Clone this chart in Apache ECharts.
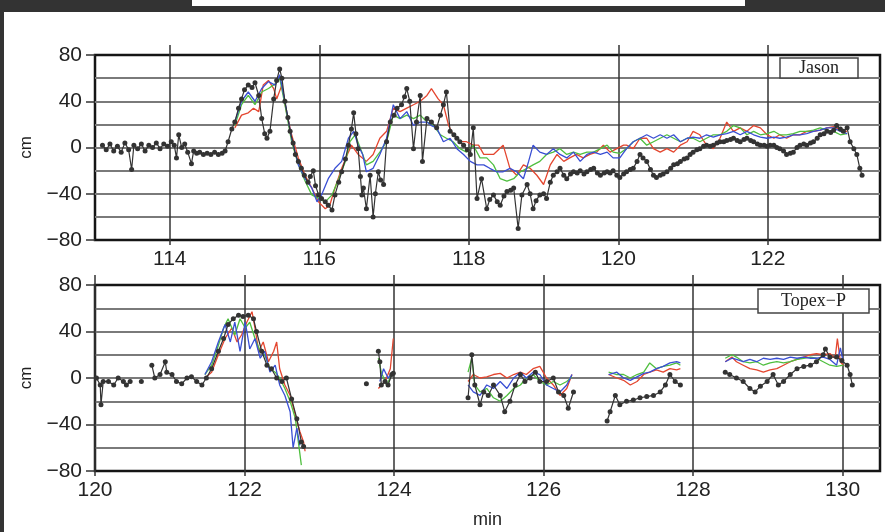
<!DOCTYPE html>
<html>
<head>
<meta charset="utf-8">
<script src="https://cdn.jsdelivr.net/npm/echarts@6/dist/echarts.min.js"></script>
<style>
  html, body { margin: 0; padding: 0; background: #fff; }
  #wrap { position: relative; width: 885px; height: 532px; overflow: hidden; }
  #chart { width: 885px; height: 532px; }
  .band { position: absolute; background: #333; }
</style>
</head>
<body>
<div id="wrap">
  <div id="chart"></div>
  <div class="band" style="left:0;top:0;width:885px;height:12px"></div>
  <div style="position:absolute;left:192px;top:0;width:553px;height:6px;background:#fff"></div>
  <div class="band" style="left:0;top:0;width:4px;height:532px"></div>
</div>
<script>
// tick labels (half-minute steps so the category axes line up with the value axes)
const jasonTicks = ['113','113.5','114','114.5','115','115.5','116','116.5','117','117.5','118','118.5',
  '119','119.5','120','120.5','121','121.5','122','122.5','123','123.5']
const topexTicks = ['120','120.5','121','121.5','122','122.5','123','123.5','124','124.5','125','125.5',
  '126','126.5','127','127.5','128','128.5','129','129.5','130','130.5']

// Jason: observed (black, dots) and three model runs
const jasonObs = [[113.10,2],[113.15,-2],[113.20,3],[113.25,-3],[113.30,1],[113.35,-4],[113.40,4],[113.45,-2],[113.49,-19],[113.52,2],[113.57,-1],[113.62,3],[113.67,-3],[113.72,2],[113.77,0],[113.82,4],[113.87,-1],[113.92,3],[113.97,1],[114.02,5],[114.06,2],[114.09,-9],[114.12,11],[114.16,0],[114.20,3],[114.24,-4],[114.29,-14],[114.32,-3],[114.36,-5],[114.40,-4],[114.45,-6],[114.50,-5],[114.55,-6],[114.60,-4],[114.65,-6],[114.70,-5],[114.74,-3],[114.78,5],[114.83,16],[114.87,22],[114.92,34],[114.96,42],[115.00,50],[115.05,54],[115.10,52],[115.14,56],[115.19,45],[115.23,25],[115.27,12],[115.30,8],[115.34,14],[115.39,42],[115.43,58],[115.47,68],[115.50,60],[115.54,40],[115.58,26],[115.61,14],[115.65,4],[115.68,-6],[115.72,-12],[115.76,-18],[115.80,-24],[115.85,-30],[115.88,-25],[115.92,-20],[115.95,-33],[115.99,-41],[116.03,-44],[116.08,-47],[116.12,-50],[116.17,-54],[116.21,-41],[116.26,-30],[116.30,-21],[116.35,-10],[116.39,2],[116.43,16],[116.46,30],[116.49,12],[116.52,-1],[116.55,-25],[116.57,-41],[116.59,-35],[116.63,-53],[116.68,-24],[116.72,-60],[116.75,-40],[116.79,-21],[116.82,-28],[116.86,-32],[116.90,5],[116.95,22],[117.00,28],[117.04,34],[117.10,37],[117.14,44],[117.17,51],[117.21,40],[117.26,-1],[117.30,22],[117.35,45],[117.38,-12],[117.44,25],[117.50,22],[117.57,17],[117.62,28],[117.66,37],[117.70,48],[117.75,14],[117.80,11],[117.84,8],[117.88,5],[117.93,2],[117.98,-2],[118.02,-6],[118.06,17],[118.11,-44],[118.17,-27],[118.24,-53],[118.28,-45],[118.33,-41],[118.38,-47],[118.42,-50],[118.47,-42],[118.51,-38],[118.56,-37],[118.60,-35],[118.66,-70],[118.71,-41],[118.78,-32],[118.82,-40],[118.86,-53],[118.90,-46],[118.95,-41],[119.00,-40],[119.04,-44],[119.09,-30],[119.13,-24],[119.18,-21],[119.22,-18],[119.27,-24],[119.31,-27],[119.36,-23],[119.40,-21],[119.45,-22],[119.49,-20],[119.54,-23],[119.58,-21],[119.63,-19],[119.67,-18],[119.72,-22],[119.76,-24],[119.81,-22],[119.85,-21],[119.89,-22],[119.93,-20],[119.98,-24],[120.02,-26],[120.07,-23],[120.11,-21],[120.16,-19],[120.20,-18],[120.25,-12],[120.29,-6],[120.33,-9],[120.38,-12],[120.43,-19],[120.47,-24],[120.51,-26],[120.56,-24],[120.60,-23],[120.65,-21],[120.70,-18],[120.74,-15],[120.79,-14],[120.83,-12],[120.88,-10],[120.92,-9],[120.96,-6],[121.00,-4],[121.05,-2],[121.09,-1],[121.14,1],[121.18,2],[121.23,1],[121.27,2],[121.32,4],[121.36,5],[121.41,5],[121.45,6],[121.50,7],[121.54,8],[121.59,6],[121.63,5],[121.68,7],[121.72,8],[121.77,6],[121.81,5],[121.86,3],[121.90,2],[121.95,2],[121.99,1],[122.03,2],[122.08,2],[122.12,0],[122.16,-1],[122.21,-3],[122.25,-6],[122.30,-5],[122.34,-4],[122.39,0],[122.43,2],[122.48,3],[122.52,2],[122.57,4],[122.61,5],[122.66,8],[122.70,11],[122.75,12],[122.79,14],[122.84,13],[122.88,15],[122.92,19],[122.97,16],[123.01,14],[123.06,17],[123.10,5],[123.15,-1],[123.19,-6],[123.23,-18],[123.26,-24]]

const jasonRed = [[114.87,17],[114.96,28],[115.05,30],[115.12,34],[115.19,31],[115.25,54],[115.32,58],[115.39,51],[115.43,42],[115.50,54],[115.56,31],[115.63,11],[115.72,-9],[115.81,-24],[115.90,-35],[115.99,-47],[116.08,-53],[116.14,-50],[116.21,-35],[116.30,-18],[116.39,-4],[116.43,2],[116.52,-6],[116.63,-12],[116.72,-6],[116.81,8],[116.90,14],[116.99,34],[117.08,31],[117.17,34],[117.26,37],[117.35,40],[117.44,45],[117.50,51],[117.59,42],[117.66,37],[117.73,19],[117.79,11],[117.88,5],[117.97,5],[118.06,2],[118.13,2],[118.20,-6],[118.33,-6],[118.46,2],[118.55,-18],[118.64,-24],[118.73,-15],[118.82,-18],[118.91,-24],[119.00,-32],[119.09,-15],[119.18,-6],[119.27,-12],[119.35,-9],[119.44,-6],[119.53,-9],[119.62,-6],[119.71,-4],[119.80,2],[119.89,-4],[119.98,-1],[120.07,2],[120.11,2],[120.20,-1],[120.29,8],[120.38,8],[120.47,-1],[120.56,-4],[120.65,-1],[120.74,-4],[120.83,2],[120.92,5],[121.00,14],[121.09,11],[121.18,2],[121.27,-1],[121.36,8],[121.45,22],[121.54,14],[121.63,17],[121.72,14],[121.81,19],[121.90,17],[121.99,11],[122.08,8],[122.16,11],[122.25,8],[122.34,11],[122.43,11],[122.52,14],[122.61,14],[122.70,15],[122.79,17],[122.88,18],[122.97,15],[123.06,14]]

const jasonGreen = [[114.87,19],[114.96,37],[115.05,45],[115.14,37],[115.23,48],[115.32,51],[115.41,55],[115.47,60],[115.54,37],[115.63,5],[115.72,-15],[115.81,-29],[115.90,-41],[115.99,-44],[116.08,-47],[116.17,-41],[116.26,-27],[116.35,-12],[116.41,5],[116.48,11],[116.57,-4],[116.63,-15],[116.72,-12],[116.81,-4],[116.90,5],[116.99,28],[117.08,25],[117.17,28],[117.26,25],[117.35,28],[117.44,22],[117.53,19],[117.62,11],[117.70,8],[117.79,5],[117.88,-1],[117.97,-4],[118.06,2],[118.15,-9],[118.24,-9],[118.33,-15],[118.42,-27],[118.51,-29],[118.60,-27],[118.69,-21],[118.78,-18],[118.86,-15],[118.95,-12],[119.04,-6],[119.13,-4],[119.22,-1],[119.31,-6],[119.40,-4],[119.49,-6],[119.58,-4],[119.67,-4],[119.76,-1],[119.85,2],[119.93,-4],[120.02,-5],[120.11,-1],[120.20,5],[120.29,8],[120.38,2],[120.47,5],[120.56,8],[120.65,11],[120.74,8],[120.83,5],[120.92,8],[121.00,8],[121.09,5],[121.18,8],[121.27,11],[121.36,11],[121.45,14],[121.54,19],[121.63,17],[121.72,11],[121.81,14],[121.90,11],[121.99,12],[122.08,14],[122.16,11],[122.25,11],[122.34,12],[122.43,14],[122.52,14],[122.61,15],[122.70,17],[122.79,15],[122.88,14],[122.97,11],[123.06,12]]

const jasonBlue = [[114.87,22],[114.96,40],[115.05,48],[115.14,40],[115.23,51],[115.32,57],[115.41,54],[115.47,63],[115.54,40],[115.63,8],[115.72,-15],[115.81,-27],[115.90,-35],[115.97,-47],[116.03,-41],[116.12,-27],[116.21,-18],[116.30,-12],[116.39,8],[116.46,14],[116.52,2],[116.58,-6],[116.63,-21],[116.72,-18],[116.81,-6],[116.90,8],[116.99,37],[117.08,25],[117.17,31],[117.26,19],[117.35,22],[117.44,22],[117.50,19],[117.57,17],[117.66,5],[117.75,8],[117.84,-1],[117.93,-6],[118.02,-12],[118.11,-15],[118.20,-15],[118.28,-18],[118.37,-21],[118.46,-21],[118.55,-18],[118.64,-21],[118.73,-27],[118.80,-12],[118.86,2],[118.95,-4],[119.04,-6],[119.13,-1],[119.22,-6],[119.31,-9],[119.40,-4],[119.49,-12],[119.58,-6],[119.67,-4],[119.76,-6],[119.85,-4],[119.93,-9],[120.02,-9],[120.11,-1],[120.20,5],[120.29,8],[120.38,11],[120.47,8],[120.56,11],[120.65,8],[120.74,11],[120.83,5],[120.92,8],[121.00,9],[121.09,8],[121.18,11],[121.27,9],[121.36,11],[121.45,12],[121.54,14],[121.63,11],[121.72,14],[121.81,11],[121.90,9],[121.99,8],[122.08,9],[122.16,8],[122.25,9],[122.34,11],[122.43,11],[122.52,12],[122.61,14],[122.70,15],[122.79,17],[122.88,17],[122.97,14],[123.06,12]]

// Topex-P: passes with gaps (null = no data)
const topexObs = [[120.02,0],[120.07,-6],[120.08,-23],[120.11,-3],[120.18,-3],[120.25,-6],[120.31,0],[120.38,-3],[120.42,-6],[120.47,-3],[120.55,null],[120.62,-3],[120.70,null],[120.76,11],[120.80,0],[120.87,3],[120.94,14],[120.96,5],[121.03,3],[121.09,-3],[121.16,-5],[121.23,0],[121.29,1],[121.36,-3],[121.43,-6],[121.49,0],[121.56,8],[121.65,23],[121.72,34],[121.78,46],[121.85,51],[121.92,54],[121.98,53],[122.05,54],[122.12,51],[122.16,40],[122.23,23],[122.30,11],[122.36,8],[122.43,0],[122.50,-3],[122.56,0],[122.63,-18],[122.70,-35],[122.76,-55],[122.79,-59],
  [123.20,null],[123.63,-5],[123.70,null],[123.79,23],[123.81,14],[123.83,-6],[123.88,-3],[123.92,-6],[123.97,3],[123.99,4],
  [124.50,null],[124.99,-17],[125.04,20],[125.08,-6],[125.15,-23],[125.20,-12],[125.26,-15],[125.33,-6],[125.42,-15],[125.48,-29],[125.55,-20],[125.62,-6],[125.69,3],[125.75,-3],[125.82,0],[125.89,5],[125.95,-3],[126.04,-3],[126.13,0],[126.20,-12],[126.27,-15],[126.33,-26],[126.40,-12],
  [126.60,null],[126.85,-37],[126.89,-29],[126.96,-15],[127.02,-23],[127.11,-20],[127.20,-19],[127.29,-17],[127.38,-16],[127.47,-15],[127.56,-12],[127.63,-6],[127.69,3],[127.76,-3],[127.83,-6],
  [128.10,null],[128.43,5],[128.49,3],[128.58,0],[128.67,-3],[128.76,-9],[128.83,-12],[128.90,-7],[128.99,-3],[129.07,3],[129.14,-6],[129.21,-3],[129.30,3],[129.39,8],[129.48,10],[129.57,11],[129.65,14],[129.74,20],[129.77,25],[129.83,18],[129.92,18],[129.99,15],[130.06,11],[130.10,3],[130.13,-6]]

const topexRed = [[121.47,0],[121.56,5],[121.65,20],[121.74,34],[121.83,43],[121.90,31],[121.96,37],[122.03,48],[122.10,57],[122.14,43],[122.19,23],[122.25,31],[122.32,14],[122.39,23],[122.43,31],[122.47,8],[122.54,-6],[122.61,-15],[122.68,-32],[122.74,-46],[122.79,-55],[122.81,-63],
  [123.20,null],[123.79,-9],[123.88,-3],[123.95,8],[123.99,34],
  [124.50,null],[124.99,-3],[125.06,3],[125.15,0],[125.24,1],[125.33,3],[125.42,4],[125.51,0],[125.60,3],[125.69,5],[125.77,3],[125.86,8],[125.95,10],[126.04,0],[126.13,-6],[126.22,-15],[126.31,-9],[126.38,3],
  [126.60,null],[126.87,3],[126.98,0],[127.07,-2],[127.16,-6],[127.25,-3],[127.34,3],[127.42,5],[127.51,7],[127.60,5],[127.69,8],[127.78,7],[127.83,8],
  [128.10,null],[128.43,14],[128.52,18],[128.58,14],[128.67,11],[128.76,8],[128.85,7],[128.94,5],[129.03,7],[129.12,8],[129.21,11],[129.30,14],[129.39,16],[129.48,18],[129.57,20],[129.65,21],[129.74,20],[129.83,21],[129.90,17],[129.93,34],[129.97,14],[130.01,11]]

const topexGreen = [[121.47,3],[121.56,11],[121.65,28],[121.72,43],[121.78,51],[121.87,37],[121.94,51],[122.01,43],[122.07,48],[122.14,34],[122.21,23],[122.27,20],[122.34,8],[122.41,5],[122.47,0],[122.54,-9],[122.61,-20],[122.68,-35],[122.72,-55],[122.76,-75],
  [123.20,null],[123.79,17],[123.83,5],[123.90,-6],[123.97,3],
  [124.50,null],[124.99,5],[125.04,17],[125.08,-6],[125.15,-12],[125.24,-9],[125.33,-17],[125.42,-20],[125.51,-15],[125.60,-9],[125.69,-6],[125.77,0],[125.86,3],[125.95,-3],[126.04,-6],[126.13,-3],[126.22,-6],[126.31,-3],[126.38,1],
  [126.60,null],[126.87,5],[126.98,3],[127.07,3],[127.16,0],[127.25,3],[127.34,5],[127.42,13],[127.51,8],[127.60,10],[127.69,11],[127.78,13],[127.83,11],
  [128.10,null],[128.43,17],[128.52,20],[128.58,18],[128.67,14],[128.76,13],[128.85,14],[128.94,11],[129.03,13],[129.12,14],[129.21,13],[129.30,14],[129.39,16],[129.48,17],[129.57,18],[129.65,17],[129.74,14],[129.83,11],[129.92,10],[130.01,11]]

const topexBlue = [[121.47,3],[121.56,14],[121.65,31],[121.74,46],[121.81,31],[121.87,48],[121.94,23],[122.01,48],[122.07,25],[122.14,34],[122.21,17],[122.27,23],[122.34,5],[122.41,11],[122.47,-6],[122.54,-15],[122.61,-29],[122.65,-60],[122.70,-43],[122.74,-58],
  [123.20,null],[123.81,-3],[123.86,8],[123.92,0],[123.99,5],
  [124.50,null],[124.99,-6],[125.06,-12],[125.15,-15],[125.24,-6],[125.33,-9],[125.42,-3],[125.51,-9],[125.60,0],[125.69,5],[125.77,0],[125.86,5],[125.95,3],[126.04,-6],[126.13,-9],[126.22,-12],[126.31,-6],[126.38,3],
  [126.60,null],[126.87,3],[126.98,5],[127.07,0],[127.16,-2],[127.25,1],[127.34,4],[127.42,5],[127.51,8],[127.60,10],[127.69,13],[127.78,14],[127.83,13],
  [128.10,null],[128.43,14],[128.52,17],[128.58,16],[128.67,14],[128.76,16],[128.85,14],[128.94,17],[129.03,16],[129.12,17],[129.21,16],[129.30,18],[129.39,17],[129.48,18],[129.57,17],[129.65,17],[129.74,18],[129.83,16],[129.92,11],[129.97,26],[130.01,13]]

const sans = '"Liberation Sans", Arial, Helvetica, sans-serif'
const serif = '"Liberation Serif", "Times New Roman", serif'
const RED = '#e4462f', GREEN = '#4fbf3f', BLUE = '#3a4fd4', OBS = '#333'

const evenTick = (i, v) => Number(v) % 2 === 0

const valueX = (grid, min, max) => ({ type: 'value', gridIndex: grid, min, max, show: false })

const bottomCat = (grid, ticks, name) => ({
  type: 'category', gridIndex: grid, position: 'bottom', boundaryGap: false, data: ticks,
  name, nameLocation: 'middle', nameGap: 40,
  nameTextStyle: { fontFamily: sans, fontSize: 18, color: '#222' },
  axisLine: { show: false },
  axisTick: { show: true, interval: evenTick, length: 5, lineStyle: { color: '#333', width: 1.5 } },
  axisLabel: { interval: evenTick, margin: 9, fontFamily: sans, fontSize: 21, color: '#222' },
  splitLine: { show: true, interval: evenTick, lineStyle: { color: '#333', width: 1.5 } }
})

const topCat = (grid, ticks) => ({
  type: 'category', gridIndex: grid, position: 'top', boundaryGap: false, data: ticks,
  axisLine: { show: false },
  axisTick: { show: true, interval: evenTick, length: 10, lineStyle: { color: '#333', width: 1.5 } },
  axisLabel: { show: false },
  splitLine: { show: false }
})

const yAx = (grid) => ({
  type: 'value', gridIndex: grid, min: -80, max: 80, interval: 40,
  name: 'cm', nameLocation: 'middle', nameGap: 60, nameRotate: 90,
  nameTextStyle: { fontFamily: sans, fontSize: 17, color: '#222' },
  axisLine: { show: false },
  axisTick: { show: true, length: 9, lineStyle: { color: '#333', width: 1.5 } },
  axisLabel: { margin: 13, fontFamily: sans, fontSize: 21, color: '#222',
    formatter: v => String(v).replace('-', '\u2212') },
  splitLine: { show: true, showMinLine: false, showMaxLine: false, lineStyle: { color: '#7a7a7a', width: 2 } },
  minorTick: { show: false, splitNumber: 2 },
  minorSplitLine: { show: true, lineStyle: { color: '#7a7a7a', width: 2 } }
})

const model = (data, color, grid) => ({
  type: 'line', data, xAxisIndex: grid * 3, yAxisIndex: grid,
  symbol: 'none', connectNulls: false,
  lineStyle: { color, width: 1.3 }, itemStyle: { color }, z: 3
})

const observed = (data, grid) => ({
  type: 'line', data, xAxisIndex: grid * 3, yAxisIndex: grid,
  symbol: 'circle', symbolSize: 5, showSymbol: true, connectNulls: false,
  lineStyle: { color: OBS, width: 1.2 }, itemStyle: { color: OBS }, z: 4
})

const boxTitle = (text, left, top, padding) => ({
  text, left, top, padding, backgroundColor: '#fff',
  borderColor: '#444', borderWidth: 1.5,
  textStyle: { fontFamily: serif, fontSize: 18, lineHeight: 18, fontWeight: 'normal', color: '#222' }
})

const chart = echarts.init(document.getElementById('chart'))
chart.setOption({
  animation: false,
  backgroundColor: '#fff',
  title: [
    boxTitle('Jason', 780, 58, [1, 19]),
    boxTitle('Topex\u2212P', 758, 289, [3, 23])
  ],
  grid: [
    { left: 95, top: 55, width: 785, height: 185, show: true, borderColor: '#151515', borderWidth: 2.5, containLabel: false },
    { left: 95, top: 285, width: 785, height: 186, show: true, borderColor: '#151515', borderWidth: 2.5, containLabel: false }
  ],
  xAxis: [
    valueX(0, 113, 123.5), bottomCat(0, jasonTicks, ''), topCat(0, jasonTicks),
    valueX(1, 120, 130.5), bottomCat(1, topexTicks, 'min'), topCat(1, topexTicks)
  ],
  yAxis: [yAx(0), yAx(1)],
  series: [
    model(jasonRed, RED, 0), model(jasonGreen, GREEN, 0), model(jasonBlue, BLUE, 0), observed(jasonObs, 0),
    model(topexRed, RED, 1), model(topexGreen, GREEN, 1), model(topexBlue, BLUE, 1), observed(topexObs, 1)
  ]
})
</script>
</body>
</html>
